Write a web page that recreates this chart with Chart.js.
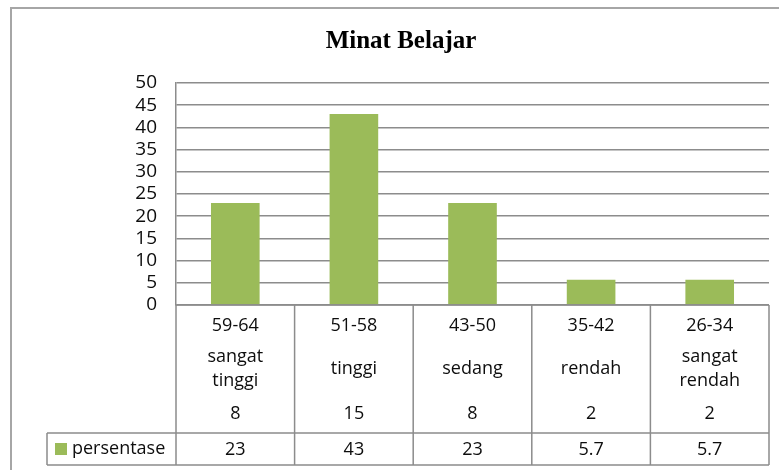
<!DOCTYPE html>
<html lang="id">
<head>
    <meta charset="UTF-8">
    <title>Minat Belajar</title>
    <style>
        html, body {
            margin: 0;
            padding: 0;
            background: #ffffff;
        }
        #wrap {
            width: 779px;
            height: 470px;
        }
    </style>
    <script src="https://cdn.jsdelivr.net/npm/chart.js"></script>
</head>
<body>
<div id="wrap">
    <canvas id="myChart" width="779" height="470"></canvas>
</div>
<script>
    // data
    const chartTitle = 'Minat Belajar';
    const seriesName = 'persentase';
    const ranges = ['59-64', '51-58', '43-50', '35-42', '26-34'];
    const levels = [['sangat', 'tinggi'], ['tinggi'], ['sedang'], ['rendah'], ['sangat', 'rendah']];
    const counts = ['8', '15', '8', '2', '2'];
    const percents = [23, 43, 23, 5.7, 5.7];
    const yTicks = [0, 5, 10, 15, 20, 25, 30, 35, 40, 45, 50];

    const barColor = '#9bbb59';
    const lineColor = '#8c8c8c';
    const textColor = '#0d0d0d';
    const textFont = '18px "Open Sans"';

    // draws the frame, title and the data table under the bars
    const tablePlugin = {
        id: 'tablePlugin',
        beforeDraw(chart) {
            let ctx = chart.ctx;
            ctx.save();
            ctx.strokeStyle = '#a6a6a6';
            ctx.lineWidth = 2;
            ctx.beginPath();
            ctx.moveTo(11, 470);
            ctx.lineTo(11, 8);
            ctx.lineTo(779, 8);
            ctx.stroke();
            ctx.restore();
        },
        afterDraw(chart) {
            let ctx = chart.ctx;
            let x = chart.scales.x;
            let top = chart.chartArea.bottom;
            let n = ranges.length;
            let colW = (x.right - x.left) / n;
            let sepY = 433;
            let bottomY = 465;
            let legendLeft = 47;

            ctx.save();
            // title
            ctx.fillStyle = '#000000';
            ctx.font = 'bold 25px "Liberation Serif"';
            ctx.textAlign = 'center';
            ctx.textBaseline = 'middle';
            ctx.fillText(chartTitle, 401, 42);

            // lines
            ctx.strokeStyle = lineColor;
            ctx.lineWidth = 1.5;
            ctx.beginPath();
            ctx.moveTo(x.left, top);
            ctx.lineTo(x.right, top);
            ctx.moveTo(legendLeft, sepY);
            ctx.lineTo(x.right, sepY);
            ctx.moveTo(legendLeft, bottomY);
            ctx.lineTo(x.right, bottomY);
            ctx.moveTo(legendLeft, sepY);
            ctx.lineTo(legendLeft, bottomY);
            for (let i = 0; i <= n; i++) {
                let bx = x.left + i * colW;
                ctx.moveTo(bx, top);
                ctx.lineTo(bx, bottomY);
            }
            ctx.stroke();

            // texts
            ctx.fillStyle = textColor;
            ctx.font = textFont;
            for (let i = 0; i < n; i++) {
                let cx = x.getPixelForValue(i);
                ctx.fillText(ranges[i], cx, 326);
                let lines = levels[i];
                if (lines.length === 1) {
                    ctx.fillText(lines[0], cx, 369);
                } else {
                    ctx.fillText(lines[0], cx, 357);
                    ctx.fillText(lines[1], cx, 381);
                }
                ctx.fillText(counts[i], cx, 414);
                ctx.fillText(String(percents[i]), cx, 450);
            }

            // legend key
            ctx.fillStyle = barColor;
            ctx.fillRect(55, 443, 12, 12);
            ctx.fillStyle = textColor;
            ctx.textAlign = 'left';
            ctx.fillText(seriesName, 72, 449);
            ctx.restore();
        }
    };

    let ctx = document.getElementById('myChart').getContext('2d');
    let myChart = new Chart(ctx, {
        type: 'bar',
        data: {
            labels: ranges,
            datasets: [{
                label: seriesName,
                data: percents,
                backgroundColor: barColor,
                borderWidth: 0,
                barPercentage: 0.41,
                categoryPercentage: 1
            }]
        },
        options: {
            responsive: false,
            animation: false,
            layout: {
                padding: {left: 10, right: 10, top: 83, bottom: 165}
            },
            plugins: {
                legend: {display: false},
                title: {display: false},
                tooltip: {enabled: false}
            },
            scales: {
                x: {
                    ticks: {display: false},
                    grid: {display: false, drawTicks: false},
                    border: {display: false},
                    afterFit(scale) {
                        scale.height = 0;
                    }
                },
                y: {
                    min: 0,
                    max: 50,
                    afterBuildTicks(scale) {
                        scale.ticks = yTicks.map(v => ({value: v}));
                    },
                    ticks: {
                        padding: 19,
                        color: textColor,
                        font: {family: 'Open Sans', size: 19},
                        autoSkip: false
                    },
                    grid: {
                        color: lineColor,
                        lineWidth: 1.5,
                        drawTicks: false
                    },
                    border: {display: true, color: lineColor, width: 1.5},
                    afterFit(scale) {
                        scale.width = 166;
                    }
                }
            }
        },
        plugins: [tablePlugin]
    });
</script>
</body>
</html>
